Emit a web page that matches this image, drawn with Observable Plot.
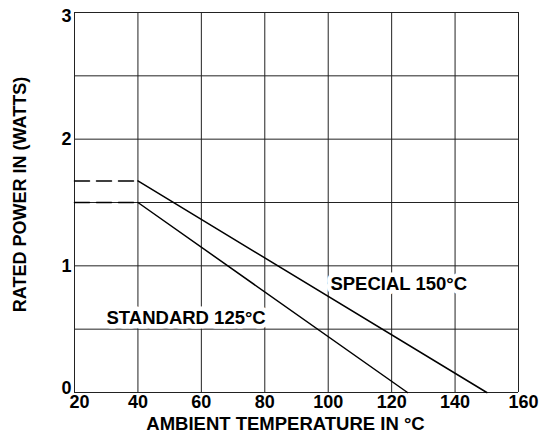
<!DOCTYPE html>
<html>
<head>
<meta charset="utf-8">
<script src="https://cdn.jsdelivr.net/npm/d3@7"></script>
<script src="https://cdn.jsdelivr.net/npm/@observablehq/plot@0.6"></script>
<style>
  html, body { margin: 0; padding: 0; background: white; }
</style>
</head>
<body>
<div id="chart"></div>
<script>
// Data
const standardTemp = [40, 125];
const standardPower = [1.5, 0];
const specialTemp = [40, 150];
const specialPower = [1.67, 0];
const flatTemp = [20, 40];
const xTicks = [20, 40, 60, 80, 100, 120, 140, 160];
const yTicks = [0, 1, 2, 3];
const yGrid = [0, 0.5, 1, 1.5, 2, 2.5, 3];
const curveLabels = ["STANDARD 125°C", "SPECIAL 150°C"];
const labelTemp = [30.1, 100.7];
const labelPower = [0.585, 0.855];
const xTitle = "AMBIENT TEMPERATURE IN °C";
const yTitle = "RATED POWER IN (WATTS)";

const standard = standardTemp.map((t, i) => ({t, p: standardPower[i]}));
const special = specialTemp.map((t, i) => ({t, p: specialPower[i]}));
const flatStd = flatTemp.map(t => ({t, p: standardPower[0]}));
const flatSpc = flatTemp.map(t => ({t, p: specialPower[0]}));
const labels = curveLabels.map((s, i) => ({s, t: labelTemp[i], p: labelPower[i]}));

const xInner = xTicks.slice(1, -1);
const xEdge = [xTicks[0], xTicks[xTicks.length - 1]];
const yInner = yTicks.slice(1, -1);
const fmt = d3.format("d");
const tickOpts = {tickSize: 0, label: null, fontSize: 18, tickFormat: fmt};

const chart = Plot.plot({
  width: 539,
  height: 444,
  marginLeft: 74,
  marginRight: 21,
  marginTop: 12,
  marginBottom: 52,
  x: {domain: [20, 160]},
  y: {domain: [0, 3]},
  style: {
    fontFamily: "'Liberation Sans', Arial, sans-serif",
    fontWeight: "bold",
    fontSize: "18px",
    background: "white",
    color: "black",
    overflow: "visible"
  },
  marks: [
    Plot.gridY(yGrid, {stroke: "#222", strokeOpacity: 1, strokeWidth: 1}),
    Plot.gridX(xTicks, {stroke: "#222", strokeOpacity: 1, strokeWidth: 1}),
    Plot.axisX(xInner, {...tickOpts, tickPadding: 3}),
    Plot.axisX(xEdge, {...tickOpts, tickPadding: 3, dx: 5}),
    Plot.axisY(yInner, {...tickOpts, tickPadding: 3}),
    Plot.axisY([yTicks[0]], {...tickOpts, tickPadding: 3, dy: -4}),
    Plot.axisY([yTicks[yTicks.length - 1]], {...tickOpts, tickPadding: 3, dy: 4}),
    Plot.text([xTitle], {frameAnchor: "bottom", lineAnchor: "top", dy: 24, dx: -11, fontSize: 18.5}),
    Plot.text([yTitle], {frameAnchor: "left", textAnchor: "middle", rotate: -90, dx: -54, dy: -8, fontSize: 18}),
    Plot.text(labels, {x: "t", y: "p", text: "s", textAnchor: "start", fill: "black", stroke: "white", strokeWidth: 9, paintOrder: "stroke", fontSize: 18.5}),
    Plot.line(flatStd, {x: "t", y: "p", stroke: "black", strokeWidth: 1.5, strokeDasharray: "15,7"}),
    Plot.line(flatSpc, {x: "t", y: "p", stroke: "black", strokeWidth: 1.5, strokeDasharray: "15,7"}),
    Plot.line(standard, {x: "t", y: "p", stroke: "black", strokeWidth: 1.5}),
    Plot.line(special, {x: "t", y: "p", stroke: "black", strokeWidth: 1.5})
  ]
});
document.getElementById("chart").appendChild(chart);
</script>
</body>
</html>
